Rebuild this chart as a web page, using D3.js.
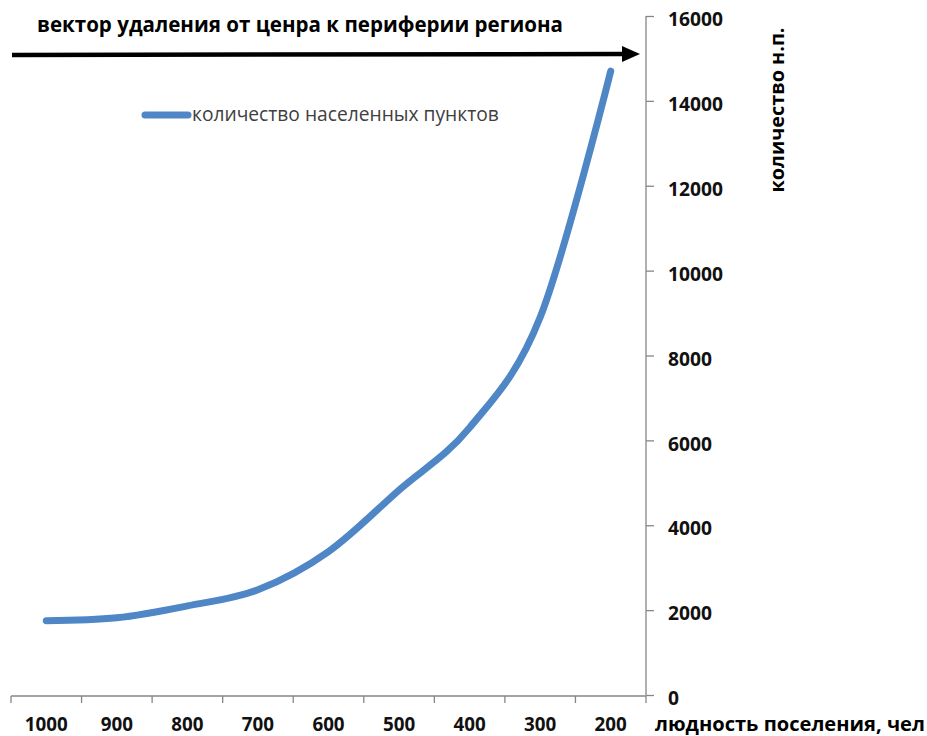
<!DOCTYPE html>
<html lang="ru">
<head>
<meta charset="utf-8">
<script src="https://cdn.jsdelivr.net/npm/d3@7"></script>
<style>
  html, body { margin: 0; padding: 0; background: #fff; }
  svg { display: block; }
  text { font-family: "Open Sans", "Noto Sans", sans-serif; }
</style>
</head>
<body>
<svg id="chart" width="927" height="736"></svg>
<script>
// Settlement size classes (people), from the centre toward the periphery
const categories = ["1000", "900", "800", "700", "600", "500", "400", "300", "200"];
// Number of settlements in each class
const settlementCounts = [1750, 1820, 2100, 2480, 3380, 4830, 6300, 8900, 14700];
const yTickValues = [0, 2000, 4000, 6000, 8000, 10000, 12000, 14000, 16000];

const titleText = "вектор удаления от ценра к периферии региона";
const legendText = "количество населенных пунктов";
const yTitleText = "количество н.п.";
const xTitleText = "людность поселения, чел";

const svg = d3.select("#chart");
const axisColor = "#868686";
const lineColor = "#4F86C6";

const plot = { left: 11, right: 646, top: 16, bottom: 695 };

const x = d3.scaleBand().domain(categories).range([plot.left, plot.right]);
const y = d3.scaleLinear().domain([0, 16000]).range([plot.bottom, plot.top]);

// font size that makes a text node span the given width
function sizeFor(node, width) {
  const fs = parseFloat(getComputedStyle(node).fontSize);
  return fs * width / node.getComputedTextLength();
}
function fitWidth(sel, width) {
  sel.style("font-size", sizeFor(sel.node(), width).toFixed(2) + "px");
}

// x axis: category ticks on band edges, labels centred in bands
const xAxisG = svg.append("g").attr("transform", `translate(0,${plot.bottom + 1})`);
xAxisG.append("line")
  .attr("x1", plot.left).attr("x2", plot.right)
  .attr("stroke", axisColor).attr("stroke-width", 1.3);
const xEdges = categories.map(c => x(c)).concat([x.range()[1]]);
xAxisG.selectAll("line.tick").data(xEdges).join("line")
  .attr("class", "tick")
  .attr("x1", d => d).attr("x2", d => d)
  .attr("y1", 0).attr("y2", 7)
  .attr("stroke", axisColor).attr("stroke-width", 1.3);
const xLabels = xAxisG.selectAll("text.lbl").data(categories).join("text")
  .attr("class", "lbl")
  .attr("x", d => x(d) + x.bandwidth() / 2)
  .attr("y", 35)
  .attr("text-anchor", "middle")
  .style("font-size", "18px")
  .attr("font-weight", 700)
  .attr("fill", "#111")
  .text(d => d);
const xLabelSize = sizeFor(xLabels.nodes()[0], 43);
xLabels.style("font-size", xLabelSize.toFixed(2) + "px");

// y axis on the right-hand side of the plot
const yAxis = d3.axisRight(y).tickValues(yTickValues).tickSize(8).tickPadding(14)
  .tickFormat(d3.format("d"));
const yAxisG = svg.append("g")
  .attr("transform", `translate(${plot.right},0)`)
  .call(yAxis);
yAxisG.select(".domain").attr("stroke", axisColor).attr("stroke-width", 1.3)
  .attr("d", `M0,${plot.top}V${plot.bottom}`);
yAxisG.selectAll(".tick line").attr("stroke", axisColor).attr("stroke-width", 1.3);
const yLabels = yAxisG.selectAll(".tick text")
  .attr("font-family", null)
  .style("font-size", "18px")
  .attr("font-weight", 700)
  .attr("fill", "#111")
  .attr("dy", "0.5em");
const topLabel = yLabels.nodes()[yLabels.size() - 1];
yLabels.style("font-size", sizeFor(topLabel, 55).toFixed(2) + "px");

// axis titles
const yTitle = svg.append("text")
  .attr("transform", `translate(784,110) rotate(-90)`)
  .attr("text-anchor", "middle")
  .style("font-size", "17px")
  .attr("font-weight", 700)
  .attr("fill", "#000")
  .text(yTitleText);
fitWidth(yTitle, 165);

const xTitle = svg.append("text")
  .attr("x", 655).attr("y", 731)
  .style("font-size", "17px")
  .attr("font-weight", 700)
  .attr("fill", "#000")
  .text(xTitleText);
fitWidth(xTitle, 270);

// direction arrow and its caption
const title = svg.append("text")
  .attr("x", 37).attr("y", 32)
  .style("font-size", "19px")
  .attr("font-weight", 700)
  .attr("fill", "#000")
  .text(titleText);
fitWidth(title, 526);

svg.append("line")
  .attr("x1", 12).attr("x2", 624)
  .attr("y1", 55).attr("y2", 54)
  .attr("stroke", "#000").attr("stroke-width", 4.5);
svg.append("path")
  .attr("d", "M622,46 L640,54 L622,62 Z")
  .attr("fill", "#000");

// the data line, smoothed like a spreadsheet line chart
const line = d3.line()
  .x((d, i) => x(categories[i]) + x.bandwidth() / 2)
  .y(d => y(d))
  .curve(d3.curveCardinal.tension(0));
svg.append("path")
  .datum(settlementCounts)
  .attr("d", line)
  .attr("fill", "none")
  .attr("stroke", lineColor)
  .attr("stroke-width", 7)
  .attr("stroke-linecap", "round")
  .attr("stroke-linejoin", "round");

// legend
svg.append("line")
  .attr("x1", 145).attr("x2", 188)
  .attr("y1", 115).attr("y2", 115)
  .attr("stroke", lineColor).attr("stroke-width", 7)
  .attr("stroke-linecap", "round");
const legend = svg.append("text")
  .attr("x", 192).attr("y", 121)
  .style("font-size", "15px")
  .attr("fill", "#404040")
  .text(legendText);
fitWidth(legend, 307);
</script>
</body>
</html>
